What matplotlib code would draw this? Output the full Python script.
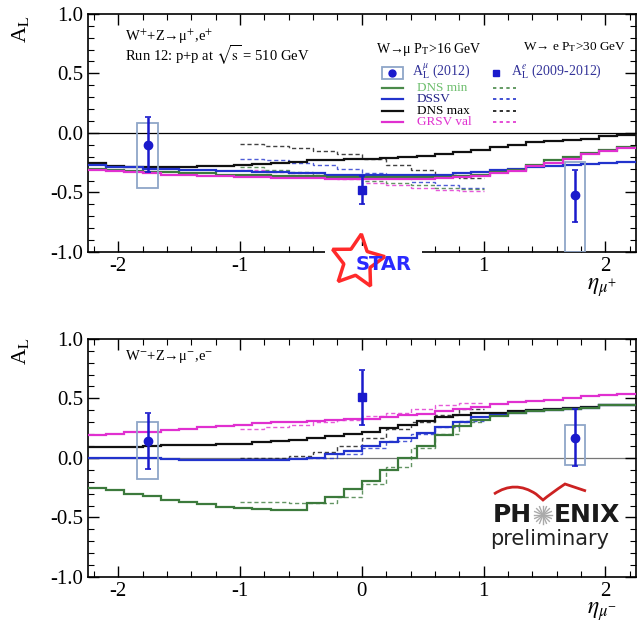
import numpy as np
import matplotlib
matplotlib.use("Agg")
import matplotlib.pyplot as plt
from matplotlib.patches import Rectangle, PathPatch
from matplotlib.path import Path

plt.rcParams['font.family'] = ['Liberation Serif', 'DejaVu Serif']
plt.rcParams['mathtext.fontset'] = 'stix'

# binning of the theory curves (step histograms)
ETA_LO, ETA_HI, NBINS = -2.25, 2.25, 30
# electron (W -> e) theory curves cover |eta| < 1
E_LO, E_HI, E_NBINS = -1.0, 1.0, 10

# ---- W+ (top panel) theory, muons ----
wp_dns_max = [-0.25, -0.28, -0.29, -0.29, -0.29, -0.29, -0.28, -0.28, -0.27, -0.26,
              -0.25, -0.24, -0.23, -0.23, -0.22, -0.22, -0.21, -0.20, -0.19, -0.18,
              -0.16, -0.14, -0.12, -0.10, -0.08, -0.07, -0.06, -0.05, -0.03, -0.02]
wp_dssv = [-0.27, -0.29, -0.29, -0.30, -0.30, -0.31, -0.31, -0.32, -0.32, -0.33,
           -0.33, -0.34, -0.34, -0.35, -0.35, -0.35, -0.35, -0.35, -0.35, -0.35,
           -0.34, -0.33, -0.31, -0.30, -0.29, -0.28, -0.27, -0.26, -0.25, -0.245]
wp_dns_min = [-0.30, -0.31, -0.32, -0.33, -0.33, -0.34, -0.34, -0.35, -0.35, -0.35,
              -0.36, -0.36, -0.36, -0.37, -0.37, -0.37, -0.37, -0.37, -0.37, -0.37,
              -0.36, -0.35, -0.33, -0.31, -0.27, -0.23, -0.20, -0.17, -0.14, -0.12]
wp_grsv = [-0.31, -0.32, -0.33, -0.34, -0.35, -0.35, -0.36, -0.36, -0.37, -0.37,
           -0.38, -0.38, -0.38, -0.39, -0.39, -0.39, -0.39, -0.39, -0.39, -0.38,
           -0.37, -0.36, -0.34, -0.32, -0.28, -0.25, -0.22, -0.18, -0.15, -0.13]

# ---- W+ theory, electrons ----
wp_e_dns_max = [-0.09, -0.11, -0.13, -0.15, -0.18, -0.22, -0.27, -0.31, -0.35, -0.38]
wp_e_dssv = [-0.22, -0.23, -0.25, -0.27, -0.30, -0.34, -0.38, -0.41, -0.44, -0.46]
wp_e_dns_min = [-0.29, -0.31, -0.33, -0.35, -0.37, -0.40, -0.42, -0.44, -0.46, -0.47]
wp_e_grsv = [-0.31, -0.33, -0.35, -0.37, -0.39, -0.42, -0.44, -0.46, -0.48, -0.49]

# ---- W- (bottom panel) theory, muons ----
wm_grsv = [0.19, 0.20, 0.22, 0.22, 0.23, 0.24, 0.26, 0.27, 0.28, 0.29,
           0.30, 0.30, 0.31, 0.32, 0.33, 0.33, 0.34, 0.36, 0.37, 0.39,
           0.41, 0.43, 0.45, 0.47, 0.48, 0.49, 0.50, 0.52, 0.53, 0.54]
wm_dns_max = [0.09, 0.095, 0.095, 0.10, 0.105, 0.11, 0.11, 0.12, 0.12, 0.13,
              0.14, 0.15, 0.165, 0.18, 0.20, 0.22, 0.25, 0.28, 0.31, 0.34,
              0.36, 0.375, 0.38, 0.39, 0.40, 0.41, 0.42, 0.43, 0.44, 0.445]
wm_dssv = [0.0, 0.0, -0.005, -0.005, -0.01, -0.015, -0.015, -0.02, -0.02, -0.02,
           -0.02, -0.01, 0.0, 0.03, 0.06, 0.10, 0.13, 0.17, 0.21, 0.26,
           0.30, 0.34, 0.36, 0.375, 0.39, 0.40, 0.41, 0.42, 0.44, 0.445]
wm_dns_min = [-0.25, -0.27, -0.30, -0.32, -0.35, -0.37, -0.39, -0.41, -0.42, -0.43,
              -0.44, -0.44, -0.38, -0.33, -0.26, -0.19, -0.10, 0.0, 0.10, 0.19,
              0.27, 0.32, 0.35, 0.375, 0.39, 0.40, 0.41, 0.42, 0.44, 0.445]

# ---- W- theory, electrons ----
wm_e_dns_min = [-0.37, -0.37, -0.38, -0.38, -0.33, -0.22, -0.08, 0.08, 0.20, 0.30]
wm_e_dssv = [-0.01, -0.01, 0.0, 0.0, 0.03, 0.08, 0.14, 0.20, 0.26, 0.31]
wm_e_dns_max = [0.0, 0.0, 0.02, 0.05, 0.10, 0.17, 0.24, 0.30, 0.36, 0.41]
wm_e_grsv = [0.24, 0.26, 0.28, 0.30, 0.32, 0.35, 0.38, 0.41, 0.44, 0.46]

# ---- data points ----
# muon A_L (2012): eta, value, stat err up/down, syst box top/bottom
mu_eta = [-1.76, 1.75]
wp_mu_val = [-0.10, -0.52]
wp_mu_err_up = [0.23, 0.21]
wp_mu_err_dn = [0.23, 0.23]
wp_mu_sys_top = [0.08, -0.24]
wp_mu_sys_bot = [-0.46, -1.0]

wm_mu_val = [0.145, 0.165]
wm_mu_err_up = [0.235, 0.245]
wm_mu_err_dn = [0.235, 0.235]
wm_mu_sys_top = [0.30, 0.28]
wm_mu_sys_bot = [-0.18, -0.06]

# electron A_L (2009-2012) at mid-rapidity
e_eta = [0.0]
wp_e_val = [-0.48]
wp_e_err = [0.12]
wm_e_val = [0.51]
wm_e_err = [0.23]

BOX_HALF = 0.085

C_GREEN = '#3c7a3c'
C_BLUE = '#2233cc'
C_MAG = '#e030d0'
C_BLACK = '#111111'
C_PT = '#1a1acc'
C_BOX = '#8fa6c8'

edges = np.linspace(ETA_LO, ETA_HI, NBINS + 1)
e_edges = np.linspace(E_LO, E_HI, E_NBINS + 1)

fig = plt.figure(figsize=(6.37, 6.27), dpi=100)
ax_top = fig.add_axes([0.138, 0.598, 0.860, 0.380])
ax_bot = fig.add_axes([0.138, 0.0797, 0.860, 0.380])


def style_axes(ax):
    ax.set_xlim(ETA_LO, ETA_HI)
    ax.set_ylim(-1.0, 1.0)
    ax.set_xticks([-2, -1, 0, 1, 2])
    ax.set_yticks([-1.0, -0.5, 0.0, 0.5, 1.0])
    ax.set_yticklabels(['-1.0', '-0.5', '0.0', '0.5', '1.0'])
    ax.set_xticklabels(['-2', '-1', '0', '1', '2'])
    ax.set_xticks(np.arange(-2.2, 2.3, 0.2), minor=True)
    ax.set_yticks(np.arange(-1.0, 1.01, 0.1), minor=True)
    ax.tick_params(which='both', direction='in', top=True, right=True, labelsize=15)
    ax.tick_params(which='major', length=8, width=1.0)
    ax.tick_params(which='minor', length=4, width=0.8)
    for sp in ax.spines.values():
        sp.set_linewidth(1.2)


def draw_panel(ax, th, th_e, mu_val, mu_up, mu_dn, sys_t, sys_b, ev, eerr, zero_col):
    ax.axhline(0.0, color=zero_col, lw=0.9, zorder=1)
    cols = [C_BLACK, C_BLUE, C_GREEN, C_MAG]
    for vals, c in zip(th_e, cols):
        ax.stairs(vals, e_edges, baseline=None, color=c, lw=1.0, ls=(0, (3, 2)),
                  alpha=0.8, zorder=2)
    for vals, c in zip(th, cols):
        ax.stairs(vals, edges, baseline=None, color=c, lw=1.6, zorder=3)
    for x, t, b in zip(mu_eta, sys_t, sys_b):
        ax.add_patch(Rectangle((x - BOX_HALF, b), 2 * BOX_HALF, t - b, fill=False,
                               edgecolor=C_BOX, lw=1.3, zorder=4))
    ax.errorbar(mu_eta, mu_val, yerr=[mu_dn, mu_up], fmt='o', color=C_PT, ms=6,
                elinewidth=1.8, capsize=2.5, capthick=1.2, zorder=5)
    ax.errorbar(e_eta, ev, yerr=eerr, fmt='s', color=C_PT, ms=6,
                elinewidth=1.8, capsize=2.5, capthick=1.2, zorder=5)
    style_axes(ax)


draw_panel(ax_top, [wp_dns_max, wp_dssv, wp_dns_min, wp_grsv],
           [wp_e_dns_max, wp_e_dssv, wp_e_dns_min, wp_e_grsv],
           wp_mu_val, wp_mu_err_up, wp_mu_err_dn, wp_mu_sys_top, wp_mu_sys_bot,
           wp_e_val, wp_e_err, 'black')
draw_panel(ax_bot, [wm_dns_max, wm_dssv, wm_dns_min, wm_grsv],
           [wm_e_dns_max, wm_e_dssv, wm_e_dns_min, wm_e_grsv],
           wm_mu_val, wm_mu_err_up, wm_mu_err_dn, wm_mu_sys_top, wm_mu_sys_bot,
           wm_e_val, wm_e_err, '#777777')

# panel texts
ax_top.text(0.067, 0.905, r'W$^{+}$+Z→μ$^{+}$,e$^{+}$', transform=ax_top.transAxes,
            fontsize=10.5, va='center')
ax_top.text(0.067, 0.825, r'Run 12: p+p at $\sqrt{\mathrm{s}}$ = 510 GeV',
            transform=ax_top.transAxes, fontsize=10.5, va='center')
ax_bot.text(0.067, 0.925, r'W$^{-}$+Z→μ$^{-}$,e$^{-}$', transform=ax_bot.transAxes,
            fontsize=10.5, va='center')

# legend (top panel)
T = ax_top.transAxes
ax_top.text(0.525, 0.850, r'W→μ P$_{\rm T}$>16 GeV', transform=T, fontsize=10,
            va='center')
ax_top.text(0.795, 0.862, r'W→ e P$_{\rm T}$>30 GeV', transform=T, fontsize=9.5,
            va='center')
ax_top.add_patch(Rectangle((0.536, 0.728), 0.040, 0.048, transform=T, fill=False,
                           edgecolor=C_BOX, lw=1.3))
ax_top.plot([0.556], [0.752], 'o', color=C_PT, ms=5, transform=T)
ax_top.text(0.592, 0.755, r'A$_{\rm L}^{\mu}$ (2012)', transform=T, fontsize=10,
            va='center', color='#333399')
ax_top.plot([0.745], [0.752], 's', color=C_PT, ms=5, transform=T)
ax_top.text(0.772, 0.755, r'A$_{\rm L}^{e}$ (2009-2012)', transform=T, fontsize=10,
            va='center', color='#333399')
leg_rows = [('DNS min', '#6fbf6f', '#4a8a4a', 0.688),
            ('DSSV', '#222288', C_BLUE, 0.641),
            ('DNS max', 'black', C_BLACK, 0.594),
            ('GRSV val', C_MAG, C_MAG, 0.547)]
for name, tcol, lcol, yy in leg_rows:
    ax_top.plot([0.536, 0.576], [yy, yy], color=lcol, lw=1.6, transform=T)
    ax_top.plot([0.740, 0.782], [yy, yy], color=lcol, lw=1.2, ls=(0, (2, 2)), transform=T)
    ax_top.text(0.600, yy, name, transform=T, fontsize=9.5, va='center', color=tcol)

# axis titles
fig.text(0.032, 0.953, r'A$_{\rm L}$', rotation=90, fontsize=16, ha='center', va='center')
fig.text(0.032, 0.440, r'A$_{\rm L}$', rotation=90, fontsize=16, ha='center', va='center')
fig.text(0.945, 0.542, r'$\eta_{\mu^{+}}$', fontsize=17, ha='center', va='center')
fig.text(0.945, 0.024, r'$\eta_{\mu^{-}}$', fontsize=17, ha='center', va='center')

# logos on an overlay in pixel coordinates
ov = fig.add_axes([0, 0, 1, 1], facecolor='none')
ov.set_xlim(0, 637)
ov.set_ylim(627, 0)
ov.axis('off')

# STAR
ov.add_patch(Rectangle((325, 246), 97, 56, facecolor='white', edgecolor='none'))
ov.plot([357], [261], marker=(5, 1, -8), ms=40, mfc='none', mec='#ff2a2a', mew=2.5)
ov.text(384, 264, 'STAR', color='#2a2aff', fontsize=14, fontweight='bold',
        family='DejaVu Sans', ha='center', va='center')

# PHENIX
ov.text(512, 515, 'PH', fontsize=18, fontweight='bold', family='DejaVu Sans',
        ha='center', va='center', color='#1a1a1a')
ov.text(587, 515, 'ENIX', fontsize=18, fontweight='bold', family='DejaVu Sans',
        ha='center', va='center', color='#1a1a1a')
for a in np.linspace(0, np.pi, 8, endpoint=False):
    ov.plot([543 - 9 * np.cos(a), 543 + 9 * np.cos(a)],
            [515 - 9 * np.sin(a), 515 + 9 * np.sin(a)], color='#aaaaaa', lw=1.0)
arc = Path([(494, 494), (515, 480), (536, 494), (543, 500),
            (550, 494), (565, 484), (586, 491)],
           [Path.MOVETO, Path.CURVE3, Path.CURVE3, Path.LINETO,
            Path.CURVE3, Path.CURVE3, Path.LINETO])
ov.add_patch(PathPatch(arc, fill=False, edgecolor='#cc2222', lw=2.0))
ov.text(550, 539, 'preliminary', fontsize=15, family='DejaVu Sans',
        ha='center', va='center', color='#222222')

fig.savefig('out.png', dpi=100)
